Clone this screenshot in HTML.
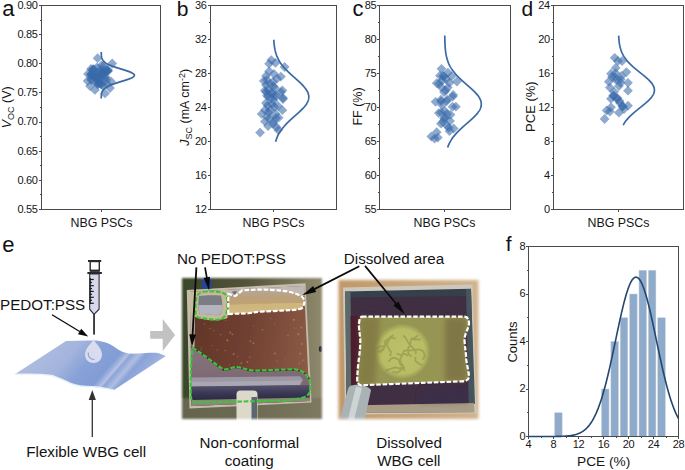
<!DOCTYPE html><html><head><meta charset="utf-8"><style>html,body{margin:0;padding:0;background:#fff;overflow:hidden}svg{display:block;font-family:"Liberation Sans",sans-serif}</style></head><body><svg width="685" height="470" viewBox="0 0 685 470" font-family="Liberation Sans, sans-serif">
<rect width="685" height="470" fill="#fff"/>
<text x="2.2" y="15.6" font-size="22" fill="#111">a</text>
<text x="176.8" y="15.6" font-size="21" fill="#111">b</text>
<text x="352.4" y="15.6" font-size="22" fill="#111">c</text>
<text x="521.6" y="15.6" font-size="21" fill="#111">d</text>
<text x="2.3" y="252" font-size="22" fill="#111">e</text>
<text x="505.8" y="250.9" font-size="21" fill="#111">f</text>
<rect x="41.5" y="5.5" width="119.0" height="204.0" fill="none" stroke="#4a4a4a" stroke-width="1"/>
<line x1="39.0" y1="5.5" x2="41.5" y2="5.5" stroke="#4a4a4a" stroke-width="1"/>
<text x="37.6" y="8.8" font-size="11" text-anchor="end" fill="#161616" letter-spacing="-0.35">0.90</text>
<line x1="40.0" y1="20.5" x2="41.5" y2="20.5" stroke="#4a4a4a" stroke-width="1"/>
<line x1="39.0" y1="34.5" x2="41.5" y2="34.5" stroke="#4a4a4a" stroke-width="1"/>
<text x="37.6" y="37.9" font-size="11" text-anchor="end" fill="#161616" letter-spacing="-0.35">0.85</text>
<line x1="40.0" y1="49.5" x2="41.5" y2="49.5" stroke="#4a4a4a" stroke-width="1"/>
<line x1="39.0" y1="63.5" x2="41.5" y2="63.5" stroke="#4a4a4a" stroke-width="1"/>
<text x="37.6" y="67.1" font-size="11" text-anchor="end" fill="#161616" letter-spacing="-0.35">0.80</text>
<line x1="40.0" y1="78.5" x2="41.5" y2="78.5" stroke="#4a4a4a" stroke-width="1"/>
<line x1="39.0" y1="92.5" x2="41.5" y2="92.5" stroke="#4a4a4a" stroke-width="1"/>
<text x="37.6" y="96.2" font-size="11" text-anchor="end" fill="#161616" letter-spacing="-0.35">0.75</text>
<line x1="40.0" y1="107.5" x2="41.5" y2="107.5" stroke="#4a4a4a" stroke-width="1"/>
<line x1="39.0" y1="122.5" x2="41.5" y2="122.5" stroke="#4a4a4a" stroke-width="1"/>
<text x="37.6" y="125.4" font-size="11" text-anchor="end" fill="#161616" letter-spacing="-0.35">0.70</text>
<line x1="40.0" y1="136.5" x2="41.5" y2="136.5" stroke="#4a4a4a" stroke-width="1"/>
<line x1="39.0" y1="151.5" x2="41.5" y2="151.5" stroke="#4a4a4a" stroke-width="1"/>
<text x="37.6" y="154.5" font-size="11" text-anchor="end" fill="#161616" letter-spacing="-0.35">0.65</text>
<line x1="40.0" y1="165.5" x2="41.5" y2="165.5" stroke="#4a4a4a" stroke-width="1"/>
<line x1="39.0" y1="180.5" x2="41.5" y2="180.5" stroke="#4a4a4a" stroke-width="1"/>
<text x="37.6" y="183.7" font-size="11" text-anchor="end" fill="#161616" letter-spacing="-0.35">0.60</text>
<line x1="40.0" y1="194.5" x2="41.5" y2="194.5" stroke="#4a4a4a" stroke-width="1"/>
<line x1="39.0" y1="209.5" x2="41.5" y2="209.5" stroke="#4a4a4a" stroke-width="1"/>
<text x="37.6" y="212.8" font-size="11" text-anchor="end" fill="#161616" letter-spacing="-0.35">0.55</text>
<line x1="101.5" y1="209.5" x2="101.5" y2="212.0" stroke="#4a4a4a" stroke-width="1"/>
<text x="101.5" y="226.6" font-size="12.4" text-anchor="middle" fill="#161616">NBG PSCs</text>
<rect x="210.5" y="5.5" width="126.0" height="204.0" fill="none" stroke="#4a4a4a" stroke-width="1"/>
<line x1="208.0" y1="5.5" x2="210.5" y2="5.5" stroke="#4a4a4a" stroke-width="1"/>
<text x="206.6" y="8.8" font-size="11" text-anchor="end" fill="#161616" letter-spacing="-0.35">36</text>
<line x1="209.0" y1="22.5" x2="210.5" y2="22.5" stroke="#4a4a4a" stroke-width="1"/>
<line x1="208.0" y1="39.5" x2="210.5" y2="39.5" stroke="#4a4a4a" stroke-width="1"/>
<text x="206.6" y="42.8" font-size="11" text-anchor="end" fill="#161616" letter-spacing="-0.35">32</text>
<line x1="209.0" y1="56.5" x2="210.5" y2="56.5" stroke="#4a4a4a" stroke-width="1"/>
<line x1="208.0" y1="73.5" x2="210.5" y2="73.5" stroke="#4a4a4a" stroke-width="1"/>
<text x="206.6" y="76.8" font-size="11" text-anchor="end" fill="#161616" letter-spacing="-0.35">28</text>
<line x1="209.0" y1="90.5" x2="210.5" y2="90.5" stroke="#4a4a4a" stroke-width="1"/>
<line x1="208.0" y1="107.5" x2="210.5" y2="107.5" stroke="#4a4a4a" stroke-width="1"/>
<text x="206.6" y="110.8" font-size="11" text-anchor="end" fill="#161616" letter-spacing="-0.35">24</text>
<line x1="209.0" y1="124.5" x2="210.5" y2="124.5" stroke="#4a4a4a" stroke-width="1"/>
<line x1="208.0" y1="141.5" x2="210.5" y2="141.5" stroke="#4a4a4a" stroke-width="1"/>
<text x="206.6" y="144.8" font-size="11" text-anchor="end" fill="#161616" letter-spacing="-0.35">20</text>
<line x1="209.0" y1="158.5" x2="210.5" y2="158.5" stroke="#4a4a4a" stroke-width="1"/>
<line x1="208.0" y1="175.5" x2="210.5" y2="175.5" stroke="#4a4a4a" stroke-width="1"/>
<text x="206.6" y="178.8" font-size="11" text-anchor="end" fill="#161616" letter-spacing="-0.35">16</text>
<line x1="209.0" y1="192.5" x2="210.5" y2="192.5" stroke="#4a4a4a" stroke-width="1"/>
<line x1="208.0" y1="209.5" x2="210.5" y2="209.5" stroke="#4a4a4a" stroke-width="1"/>
<text x="206.6" y="212.8" font-size="11" text-anchor="end" fill="#161616" letter-spacing="-0.35">12</text>
<line x1="273.5" y1="209.5" x2="273.5" y2="212.0" stroke="#4a4a4a" stroke-width="1"/>
<text x="273.5" y="226.6" font-size="12.4" text-anchor="middle" fill="#161616">NBG PSCs</text>
<rect x="379.5" y="5.5" width="131.0" height="204.0" fill="none" stroke="#4a4a4a" stroke-width="1"/>
<line x1="377.0" y1="5.5" x2="379.5" y2="5.5" stroke="#4a4a4a" stroke-width="1"/>
<text x="376.2" y="8.8" font-size="11" text-anchor="end" fill="#161616" letter-spacing="-0.35">85</text>
<line x1="378.0" y1="22.5" x2="379.5" y2="22.5" stroke="#4a4a4a" stroke-width="1"/>
<line x1="377.0" y1="39.5" x2="379.5" y2="39.5" stroke="#4a4a4a" stroke-width="1"/>
<text x="376.2" y="42.8" font-size="11" text-anchor="end" fill="#161616" letter-spacing="-0.35">80</text>
<line x1="378.0" y1="56.5" x2="379.5" y2="56.5" stroke="#4a4a4a" stroke-width="1"/>
<line x1="377.0" y1="73.5" x2="379.5" y2="73.5" stroke="#4a4a4a" stroke-width="1"/>
<text x="376.2" y="76.8" font-size="11" text-anchor="end" fill="#161616" letter-spacing="-0.35">75</text>
<line x1="378.0" y1="90.5" x2="379.5" y2="90.5" stroke="#4a4a4a" stroke-width="1"/>
<line x1="377.0" y1="107.5" x2="379.5" y2="107.5" stroke="#4a4a4a" stroke-width="1"/>
<text x="376.2" y="110.8" font-size="11" text-anchor="end" fill="#161616" letter-spacing="-0.35">70</text>
<line x1="378.0" y1="124.5" x2="379.5" y2="124.5" stroke="#4a4a4a" stroke-width="1"/>
<line x1="377.0" y1="141.5" x2="379.5" y2="141.5" stroke="#4a4a4a" stroke-width="1"/>
<text x="376.2" y="144.8" font-size="11" text-anchor="end" fill="#161616" letter-spacing="-0.35">65</text>
<line x1="378.0" y1="158.5" x2="379.5" y2="158.5" stroke="#4a4a4a" stroke-width="1"/>
<line x1="377.0" y1="175.5" x2="379.5" y2="175.5" stroke="#4a4a4a" stroke-width="1"/>
<text x="376.2" y="178.8" font-size="11" text-anchor="end" fill="#161616" letter-spacing="-0.35">60</text>
<line x1="378.0" y1="192.5" x2="379.5" y2="192.5" stroke="#4a4a4a" stroke-width="1"/>
<line x1="377.0" y1="209.5" x2="379.5" y2="209.5" stroke="#4a4a4a" stroke-width="1"/>
<text x="376.2" y="212.8" font-size="11" text-anchor="end" fill="#161616" letter-spacing="-0.35">55</text>
<line x1="444.5" y1="209.5" x2="444.5" y2="212.0" stroke="#4a4a4a" stroke-width="1"/>
<text x="444.5" y="226.6" font-size="12.4" text-anchor="middle" fill="#161616">NBG PSCs</text>
<rect x="553.5" y="5.5" width="130.0" height="204.0" fill="none" stroke="#4a4a4a" stroke-width="1"/>
<line x1="551.0" y1="5.5" x2="553.5" y2="5.5" stroke="#4a4a4a" stroke-width="1"/>
<text x="549.8" y="8.8" font-size="11" text-anchor="end" fill="#161616" letter-spacing="-0.35">24</text>
<line x1="552.0" y1="22.5" x2="553.5" y2="22.5" stroke="#4a4a4a" stroke-width="1"/>
<line x1="551.0" y1="39.5" x2="553.5" y2="39.5" stroke="#4a4a4a" stroke-width="1"/>
<text x="549.8" y="42.8" font-size="11" text-anchor="end" fill="#161616" letter-spacing="-0.35">20</text>
<line x1="552.0" y1="56.5" x2="553.5" y2="56.5" stroke="#4a4a4a" stroke-width="1"/>
<line x1="551.0" y1="73.5" x2="553.5" y2="73.5" stroke="#4a4a4a" stroke-width="1"/>
<text x="549.8" y="76.8" font-size="11" text-anchor="end" fill="#161616" letter-spacing="-0.35">16</text>
<line x1="552.0" y1="90.5" x2="553.5" y2="90.5" stroke="#4a4a4a" stroke-width="1"/>
<line x1="551.0" y1="107.5" x2="553.5" y2="107.5" stroke="#4a4a4a" stroke-width="1"/>
<text x="549.8" y="110.8" font-size="11" text-anchor="end" fill="#161616" letter-spacing="-0.35">12</text>
<line x1="552.0" y1="124.5" x2="553.5" y2="124.5" stroke="#4a4a4a" stroke-width="1"/>
<line x1="551.0" y1="141.5" x2="553.5" y2="141.5" stroke="#4a4a4a" stroke-width="1"/>
<text x="549.8" y="144.8" font-size="11" text-anchor="end" fill="#161616" letter-spacing="-0.35">8</text>
<line x1="552.0" y1="158.5" x2="553.5" y2="158.5" stroke="#4a4a4a" stroke-width="1"/>
<line x1="551.0" y1="175.5" x2="553.5" y2="175.5" stroke="#4a4a4a" stroke-width="1"/>
<text x="549.8" y="178.8" font-size="11" text-anchor="end" fill="#161616" letter-spacing="-0.35">4</text>
<line x1="552.0" y1="192.5" x2="553.5" y2="192.5" stroke="#4a4a4a" stroke-width="1"/>
<line x1="551.0" y1="209.5" x2="553.5" y2="209.5" stroke="#4a4a4a" stroke-width="1"/>
<text x="549.8" y="212.8" font-size="11" text-anchor="end" fill="#161616" letter-spacing="-0.35">0</text>
<line x1="618.5" y1="209.5" x2="618.5" y2="212.0" stroke="#4a4a4a" stroke-width="1"/>
<text x="618.5" y="226.6" font-size="12.4" text-anchor="middle" fill="#161616">NBG PSCs</text>
<text transform="translate(11.2,107.3) rotate(-90)" font-size="12.5" text-anchor="middle" fill="#161616"><tspan font-style="italic">V</tspan><tspan font-size="9" dy="2.5">OC</tspan><tspan dy="-2.5"> (V)</tspan></text>
<text transform="translate(189.2,107.3) rotate(-90)" font-size="12.5" text-anchor="middle" fill="#161616"><tspan font-style="italic">J</tspan><tspan font-size="9" dy="2.5">SC</tspan><tspan dy="-2.5"> (mA cm</tspan><tspan font-size="9" dy="-4.5">-2</tspan><tspan dy="4.5">)</tspan></text>
<text transform="translate(361.5,106.5) rotate(-90)" font-size="12.5" text-anchor="middle" fill="#161616">FF (%)</text>
<text transform="translate(535.3,106.6) rotate(-90)" font-size="13" text-anchor="middle" fill="#161616">PCE (%)</text>
<g fill="#386aa8" fill-opacity="0.57"><path d="M97.6,53.3 L102.5,58.2 L97.6,63.1 L92.7,58.2 Z"/><path d="M112.2,58.6 L117.1,63.5 L112.2,68.4 L107.3,63.5 Z"/><path d="M87.6,76.0 L92.5,80.9 L87.6,85.8 L82.7,80.9 Z"/><path d="M94.9,85.0 L99.8,89.9 L94.9,94.8 L90.0,89.9 Z"/><path d="M105.0,88.5 L109.9,93.4 L105.0,98.3 L100.1,93.4 Z"/><path d="M111.0,76.6 L115.9,81.5 L111.0,86.4 L106.1,81.5 Z"/><path d="M91.0,64.1 L95.9,69.0 L91.0,73.9 L86.1,69.0 Z"/><path d="M108.0,65.1 L112.9,70.0 L108.0,74.9 L103.1,70.0 Z"/><path d="M90.0,81.1 L94.9,86.0 L90.0,90.9 L85.1,86.0 Z"/><path d="M110.0,83.1 L114.9,88.0 L110.0,92.9 L105.1,88.0 Z"/><path d="M88.0,69.1 L92.9,74.0 L88.0,78.9 L83.1,74.0 Z"/><path d="M97.0,62.6 L101.9,67.5 L97.0,72.4 L92.1,67.5 Z"/><path d="M103.5,60.8 L108.4,65.7 L103.5,70.6 L98.6,65.7 Z"/><path d="M101.2,67.5 L106.1,72.4 L101.2,77.3 L96.3,72.4 Z"/><path d="M91.7,70.8 L96.6,75.7 L91.7,80.6 L86.8,75.7 Z"/><path d="M91.2,69.1 L96.1,74.0 L91.2,78.9 L86.3,74.0 Z"/><path d="M99.0,78.1 L103.9,83.0 L99.0,87.9 L94.1,83.0 Z"/><path d="M93.0,64.2 L97.9,69.1 L93.0,74.0 L88.1,69.1 Z"/><path d="M103.0,80.9 L107.9,85.8 L103.0,90.7 L98.1,85.8 Z"/><path d="M102.0,68.2 L106.9,73.1 L102.0,78.0 L97.1,73.1 Z"/><path d="M107.7,65.8 L112.6,70.7 L107.7,75.6 L102.8,70.7 Z"/><path d="M96.7,77.9 L101.6,82.8 L96.7,87.7 L91.8,82.8 Z"/><path d="M94.1,72.5 L99.0,77.4 L94.1,82.3 L89.2,77.4 Z"/><path d="M103.3,67.7 L108.2,72.6 L103.3,77.5 L98.4,72.6 Z"/><path d="M101.5,60.5 L106.4,65.4 L101.5,70.3 L96.6,65.4 Z"/><path d="M104.1,68.9 L109.0,73.8 L104.1,78.7 L99.2,73.8 Z"/><path d="M96.8,72.6 L101.7,77.5 L96.8,82.4 L91.9,77.5 Z"/><path d="M99.6,66.0 L104.5,70.9 L99.6,75.8 L94.7,70.9 Z"/><path d="M106.4,75.2 L111.3,80.1 L106.4,85.0 L101.5,80.1 Z"/><path d="M95.4,72.3 L100.3,77.2 L95.4,82.1 L90.5,77.2 Z"/><path d="M101.0,79.2 L105.9,84.1 L101.0,89.0 L96.1,84.1 Z"/><path d="M105.1,65.7 L110.0,70.6 L105.1,75.5 L100.2,70.6 Z"/><path d="M98.9,76.5 L103.8,81.4 L98.9,86.3 L94.0,81.4 Z"/><path d="M93.5,70.3 L98.4,75.2 L93.5,80.1 L88.6,75.2 Z"/><path d="M91.3,74.5 L96.2,79.4 L91.3,84.3 L86.4,79.4 Z"/><path d="M105.8,72.3 L110.7,77.2 L105.8,82.1 L100.9,77.2 Z"/><path d="M108.0,66.3 L112.9,71.2 L108.0,76.1 L103.1,71.2 Z"/><path d="M104.4,72.8 L109.3,77.7 L104.4,82.6 L99.5,77.7 Z"/><path d="M102.1,69.6 L107.0,74.5 L102.1,79.4 L97.2,74.5 Z"/><path d="M100.0,74.4 L104.9,79.3 L100.0,84.2 L95.1,79.3 Z"/><path d="M91.7,75.2 L96.6,80.1 L91.7,85.0 L86.8,80.1 Z"/><path d="M106.9,65.6 L111.8,70.5 L106.9,75.4 L102.0,70.5 Z"/><path d="M98.2,74.5 L103.1,79.4 L98.2,84.3 L93.3,79.4 Z"/><path d="M91.0,69.7 L95.9,74.6 L91.0,79.5 L86.1,74.6 Z"/><path d="M93.1,64.8 L98.0,69.7 L93.1,74.6 L88.2,69.7 Z"/><path d="M98.3,79.1 L103.2,84.0 L98.3,88.9 L93.4,84.0 Z"/><path d="M92.1,69.4 L97.0,74.3 L92.1,79.2 L87.2,74.3 Z"/><path d="M101.5,79.4 L106.4,84.3 L101.5,89.2 L96.6,84.3 Z"/><path d="M106.9,79.0 L111.8,83.9 L106.9,88.8 L102.0,83.9 Z"/><path d="M96.1,68.7 L101.0,73.6 L96.1,78.5 L91.2,73.6 Z"/><path d="M97.7,79.4 L102.6,84.3 L97.7,89.2 L92.8,84.3 Z"/><path d="M94.0,64.4 L98.9,69.3 L94.0,74.2 L89.1,69.3 Z"/><path d="M95.2,70.3 L100.1,75.2 L95.2,80.1 L90.3,75.2 Z"/><path d="M102.3,65.1 L107.2,70.0 L102.3,74.9 L97.4,70.0 Z"/><path d="M97.9,72.1 L102.8,77.0 L97.9,81.9 L93.0,77.0 Z"/></g>
<g fill="#386aa8" fill-opacity="0.57"><path d="M271.3,55.2 L276.2,60.1 L271.3,65.0 L266.4,60.1 Z"/><path d="M269.1,58.9 L274.0,63.8 L269.1,68.7 L264.2,63.8 Z"/><path d="M275.5,57.9 L280.4,62.8 L275.5,67.7 L270.6,62.8 Z"/><path d="M284.6,62.1 L289.5,67.0 L284.6,71.9 L279.7,67.0 Z"/><path d="M269.1,66.4 L274.0,71.3 L269.1,76.2 L264.2,71.3 Z"/><path d="M266.0,71.1 L270.9,76.0 L266.0,80.9 L261.1,76.0 Z"/><path d="M280.9,71.7 L285.8,76.6 L280.9,81.5 L276.0,76.6 Z"/><path d="M277.1,73.8 L282.0,78.7 L277.1,83.6 L272.2,78.7 Z"/><path d="M263.8,76.0 L268.7,80.9 L263.8,85.8 L258.9,80.9 Z"/><path d="M272.9,77.0 L277.8,81.9 L272.9,86.8 L268.0,81.9 Z"/><path d="M266.0,80.2 L270.9,85.1 L266.0,90.0 L261.1,85.1 Z"/><path d="M273.4,81.3 L278.3,86.2 L273.4,91.1 L268.5,86.2 Z"/><path d="M282.4,85.5 L287.3,90.4 L282.4,95.3 L277.5,90.4 Z"/><path d="M264.9,85.5 L269.8,90.4 L264.9,95.3 L260.0,90.4 Z"/><path d="M271.3,87.7 L276.2,92.6 L271.3,97.5 L266.4,92.6 Z"/><path d="M267.0,90.8 L271.9,95.7 L267.0,100.6 L262.1,95.7 Z"/><path d="M275.5,91.9 L280.4,96.8 L275.5,101.7 L270.6,96.8 Z"/><path d="M283.0,93.0 L287.9,97.9 L283.0,102.8 L278.1,97.9 Z"/><path d="M266.0,87.2 L270.9,92.1 L266.0,97.0 L261.1,92.1 Z"/><path d="M272.3,88.8 L277.2,93.7 L272.3,98.6 L267.4,93.7 Z"/><path d="M280.9,87.2 L285.8,92.1 L280.9,97.0 L276.0,92.1 Z"/><path d="M283.0,94.1 L287.9,99.0 L283.0,103.9 L278.1,99.0 Z"/><path d="M268.1,91.5 L273.0,96.4 L268.1,101.3 L263.2,96.4 Z"/><path d="M273.4,95.7 L278.3,100.6 L273.4,105.5 L268.5,100.6 Z"/><path d="M267.6,100.5 L272.5,105.4 L267.6,110.3 L262.7,105.4 Z"/><path d="M274.5,102.1 L279.4,107.0 L274.5,111.9 L269.6,107.0 Z"/><path d="M282.4,105.3 L287.3,110.2 L282.4,115.1 L277.5,110.2 Z"/><path d="M261.7,109.0 L266.6,113.9 L261.7,118.8 L256.8,113.9 Z"/><path d="M268.6,107.4 L273.5,112.3 L268.6,117.2 L263.7,112.3 Z"/><path d="M275.5,109.0 L280.4,113.9 L275.5,118.8 L270.6,113.9 Z"/><path d="M278.7,112.8 L283.6,117.7 L278.7,122.6 L273.8,117.7 Z"/><path d="M267.0,112.2 L271.9,117.1 L267.0,122.0 L262.1,117.1 Z"/><path d="M264.9,116.5 L269.8,121.4 L264.9,126.3 L260.0,121.4 Z"/><path d="M273.4,117.0 L278.3,121.9 L273.4,126.8 L268.5,121.9 Z"/><path d="M276.6,122.3 L281.5,127.2 L276.6,132.1 L271.7,127.2 Z"/><path d="M278.2,125.0 L283.1,129.9 L278.2,134.8 L273.3,129.9 Z"/><path d="M260.1,127.7 L265.0,132.6 L260.1,137.5 L255.2,132.6 Z"/><path d="M270.0,79.1 L274.9,84.0 L270.0,88.9 L265.1,84.0 Z"/><path d="M275.0,83.1 L279.9,88.0 L275.0,92.9 L270.1,88.0 Z"/><path d="M268.0,85.1 L272.9,90.0 L268.0,94.9 L263.1,90.0 Z"/><path d="M276.0,90.1 L280.9,95.0 L276.0,99.9 L271.1,95.0 Z"/><path d="M271.0,93.1 L275.9,98.0 L271.0,102.9 L266.1,98.0 Z"/><path d="M266.0,98.1 L270.9,103.0 L266.0,107.9 L261.1,103.0 Z"/><path d="M272.0,99.1 L276.9,104.0 L272.0,108.9 L267.1,104.0 Z"/><path d="M278.0,101.1 L282.9,106.0 L278.0,110.9 L273.1,106.0 Z"/><path d="M270.0,105.1 L274.9,110.0 L270.0,114.9 L265.1,110.0 Z"/><path d="M265.0,105.1 L269.9,110.0 L265.0,114.9 L260.1,110.0 Z"/><path d="M276.0,113.1 L280.9,118.0 L276.0,122.9 L271.1,118.0 Z"/><path d="M270.0,113.1 L274.9,118.0 L270.0,122.9 L265.1,118.0 Z"/><path d="M273.0,119.1 L277.9,124.0 L273.0,128.9 L268.1,124.0 Z"/><path d="M268.0,121.1 L272.9,126.0 L268.0,130.9 L263.1,126.0 Z"/><path d="M274.0,69.1 L278.9,74.0 L274.0,78.9 L269.1,74.0 Z"/><path d="M267.0,75.1 L271.9,80.0 L267.0,84.9 L262.1,80.0 Z"/></g>
<g fill="#386aa8" fill-opacity="0.57"><path d="M441.5,63.9 L446.4,68.8 L441.5,73.7 L436.6,68.8 Z"/><path d="M447.9,67.7 L452.8,72.6 L447.9,77.5 L443.0,72.6 Z"/><path d="M439.9,70.8 L444.8,75.7 L439.9,80.6 L435.0,75.7 Z"/><path d="M444.1,71.4 L449.0,76.3 L444.1,81.2 L439.2,76.3 Z"/><path d="M451.6,71.4 L456.5,76.3 L451.6,81.2 L446.7,76.3 Z"/><path d="M436.7,78.3 L441.6,83.2 L436.7,88.1 L431.8,83.2 Z"/><path d="M442.0,75.6 L446.9,80.5 L442.0,85.4 L437.1,80.5 Z"/><path d="M449.5,77.8 L454.4,82.7 L449.5,87.6 L444.6,82.7 Z"/><path d="M456.9,76.7 L461.8,81.6 L456.9,86.5 L452.0,81.6 Z"/><path d="M441.0,82.0 L445.9,86.9 L441.0,91.8 L436.1,86.9 Z"/><path d="M445.7,85.7 L450.6,90.6 L445.7,95.5 L440.8,90.6 Z"/><path d="M453.2,90.0 L458.1,94.9 L453.2,99.8 L448.3,94.9 Z"/><path d="M435.6,96.9 L440.5,101.8 L435.6,106.7 L430.7,101.8 Z"/><path d="M441.0,94.8 L445.9,99.7 L441.0,104.6 L436.1,99.7 Z"/><path d="M447.3,94.8 L452.2,99.7 L447.3,104.6 L442.4,99.7 Z"/><path d="M441.0,96.5 L445.9,101.4 L441.0,106.3 L436.1,101.4 Z"/><path d="M452.7,91.7 L457.6,96.6 L452.7,101.5 L447.8,96.6 Z"/><path d="M455.9,101.8 L460.8,106.7 L455.9,111.6 L451.0,106.7 Z"/><path d="M438.8,108.2 L443.7,113.1 L438.8,118.0 L433.9,113.1 Z"/><path d="M444.7,106.1 L449.6,111.0 L444.7,115.9 L439.8,111.0 Z"/><path d="M450.5,109.8 L455.4,114.7 L450.5,119.6 L445.6,114.7 Z"/><path d="M444.1,113.5 L449.0,118.4 L444.1,123.3 L439.2,118.4 Z"/><path d="M441.0,118.8 L445.9,123.7 L441.0,128.6 L436.1,123.7 Z"/><path d="M447.3,121.0 L452.2,125.9 L447.3,130.8 L442.4,125.9 Z"/><path d="M453.7,123.6 L458.6,128.5 L453.7,133.4 L448.8,128.5 Z"/><path d="M449.5,126.3 L454.4,131.2 L449.5,136.1 L444.6,131.2 Z"/><path d="M436.7,127.3 L441.6,132.2 L436.7,137.1 L431.8,132.2 Z"/><path d="M431.4,131.6 L436.3,136.5 L431.4,141.4 L426.5,136.5 Z"/><path d="M437.8,132.7 L442.7,137.6 L437.8,142.5 L432.9,137.6 Z"/><path d="M434.6,133.7 L439.5,138.6 L434.6,143.5 L429.7,138.6 Z"/><path d="M443.0,71.1 L447.9,76.0 L443.0,80.9 L438.1,76.0 Z"/><path d="M446.0,74.1 L450.9,79.0 L446.0,83.9 L441.1,79.0 Z"/><path d="M439.2,78.8 L444.1,83.7 L439.2,88.6 L434.3,83.7 Z"/><path d="M447.8,82.7 L452.7,87.6 L447.8,92.5 L442.9,87.6 Z"/><path d="M444.0,87.1 L448.9,92.0 L444.0,96.9 L439.1,92.0 Z"/><path d="M446.8,96.1 L451.7,101.0 L446.8,105.9 L441.9,101.0 Z"/><path d="M442.0,100.1 L446.9,105.0 L442.0,109.9 L437.1,105.0 Z"/><path d="M452.6,101.8 L457.5,106.7 L452.6,111.6 L447.7,106.7 Z"/><path d="M441.1,107.6 L446.0,112.5 L441.1,117.4 L436.2,112.5 Z"/><path d="M447.0,109.1 L451.9,114.0 L447.0,118.9 L442.1,114.0 Z"/><path d="M444.9,113.3 L449.8,118.2 L444.9,123.1 L440.0,118.2 Z"/><path d="M448.7,122.9 L453.6,127.8 L448.7,132.7 L443.8,127.8 Z"/><path d="M443.0,117.1 L447.9,122.0 L443.0,126.9 L438.1,122.0 Z"/><path d="M450.0,116.1 L454.9,121.0 L450.0,125.9 L445.1,121.0 Z"/></g>
<g fill="#386aa8" fill-opacity="0.57"><path d="M614.7,52.9 L619.6,57.8 L614.7,62.7 L609.8,57.8 Z"/><path d="M617.9,56.1 L622.8,61.0 L617.9,65.9 L613.0,61.0 Z"/><path d="M622.1,56.1 L627.0,61.0 L622.1,65.9 L617.2,61.0 Z"/><path d="M615.7,63.0 L620.6,67.9 L615.7,72.8 L610.8,67.9 Z"/><path d="M611.0,68.8 L615.9,73.7 L611.0,78.6 L606.1,73.7 Z"/><path d="M615.7,68.3 L620.6,73.2 L615.7,78.1 L610.8,73.2 Z"/><path d="M626.4,67.2 L631.3,72.1 L626.4,77.0 L621.5,72.1 Z"/><path d="M621.6,71.0 L626.5,75.9 L621.6,80.8 L616.7,75.9 Z"/><path d="M612.0,72.0 L616.9,76.9 L612.0,81.8 L607.1,76.9 Z"/><path d="M616.3,75.2 L621.2,80.1 L616.3,85.0 L611.4,80.1 Z"/><path d="M608.8,76.8 L613.7,81.7 L608.8,86.6 L603.9,81.7 Z"/><path d="M620.5,77.9 L625.4,82.8 L620.5,87.7 L615.6,82.8 Z"/><path d="M628.0,77.9 L632.9,82.8 L628.0,87.7 L623.1,82.8 Z"/><path d="M609.9,82.7 L614.8,87.6 L609.9,92.5 L605.0,87.6 Z"/><path d="M628.0,85.8 L632.9,90.7 L628.0,95.6 L623.1,90.7 Z"/><path d="M614.1,86.9 L619.0,91.8 L614.1,96.7 L609.2,91.8 Z"/><path d="M618.9,81.2 L623.8,86.1 L618.9,91.0 L614.0,86.1 Z"/><path d="M613.1,90.7 L618.0,95.6 L613.1,100.5 L608.2,95.6 Z"/><path d="M617.3,92.9 L622.2,97.8 L617.3,102.7 L612.4,97.8 Z"/><path d="M611.0,93.9 L615.9,98.8 L611.0,103.7 L606.1,98.8 Z"/><path d="M619.5,96.1 L624.4,101.0 L619.5,105.9 L614.6,101.0 Z"/><path d="M622.7,101.4 L627.6,106.3 L622.7,111.2 L617.8,106.3 Z"/><path d="M628.0,100.8 L632.9,105.7 L628.0,110.6 L623.1,105.7 Z"/><path d="M611.0,102.4 L615.9,107.3 L611.0,112.2 L606.1,107.3 Z"/><path d="M606.7,105.6 L611.6,110.5 L606.7,115.4 L601.8,110.5 Z"/><path d="M609.9,106.7 L614.8,111.6 L609.9,116.5 L605.0,111.6 Z"/><path d="M618.9,107.8 L623.8,112.7 L618.9,117.6 L614.0,112.7 Z"/><path d="M604.6,114.1 L609.5,119.0 L604.6,123.9 L599.7,119.0 Z"/><path d="M617.0,94.1 L621.9,99.0 L617.0,103.9 L612.1,99.0 Z"/><path d="M622.5,101.6 L627.4,106.5 L622.5,111.4 L617.6,106.5 Z"/><path d="M615.3,72.6 L620.2,77.5 L615.3,82.4 L610.4,77.5 Z"/><path d="M620.7,74.5 L625.6,79.4 L620.7,84.3 L615.8,79.4 Z"/><path d="M614.0,91.1 L618.9,96.0 L614.0,100.9 L609.1,96.0 Z"/><path d="M620.0,98.1 L624.9,103.0 L620.0,107.9 L615.1,103.0 Z"/><path d="M624.0,104.1 L628.9,109.0 L624.0,113.9 L619.1,109.0 Z"/></g>
<path d="M101.23,51.90 L101.24,52.40 L101.25,52.90 L101.26,53.40 L101.29,53.90 L101.31,54.40 L101.35,54.90 L101.39,55.40 L101.45,55.90 L101.52,56.40 L101.61,56.90 L101.71,57.40 L101.85,57.90 L102.01,58.40 L102.20,58.90 L102.44,59.40 L102.72,59.90 L103.05,60.40 L103.44,60.90 L103.89,61.40 L104.41,61.90 L105.01,62.40 L105.69,62.90 L106.46,63.40 L107.32,63.90 L108.28,64.40 L109.33,64.90 L110.48,65.40 L111.72,65.90 L113.05,66.40 L114.46,66.90 L115.94,67.40 L117.49,67.90 L119.07,68.40 L120.69,68.90 L122.31,69.40 L123.92,69.90 L125.49,70.40 L127.01,70.90 L128.44,71.40 L129.77,71.90 L130.96,72.40 L132.00,72.90 L132.88,73.40 L133.56,73.90 L134.05,74.40 L134.33,74.90 L134.40,75.40 L134.24,75.90 L133.88,76.40 L133.31,76.90 L132.55,77.40 L131.61,77.90 L130.50,78.40 L129.25,78.90 L127.88,79.40 L126.41,79.90 L124.87,80.40 L123.28,80.90 L121.66,81.40 L120.04,81.90 L118.43,82.40 L116.86,82.90 L115.34,83.40 L113.89,83.90 L112.51,84.40 L111.21,84.90 L110.01,85.40 L108.90,85.90 L107.89,86.40 L106.97,86.90 L106.14,87.40 L105.41,87.90 L104.76,88.40 L104.19,88.90 L103.70,89.40 L103.27,89.90 L102.91,90.40 L102.60,90.90 L102.34,91.40 L102.12,91.90 L101.94,92.40 L101.79,92.90 L101.67,93.40 L101.57,93.90 L101.49,94.40 L101.42,94.90 L101.37,95.40 L101.33,95.90 L101.30,96.40 L101.28,96.90 L101.26,97.40 L101.24,97.90 L101.23,98.40" fill="none" stroke="#3b69a5" stroke-width="1.7"/>
<path d="M273.78,39.70 L273.81,40.20 L273.84,40.70 L273.87,41.20 L273.91,41.70 L273.95,42.20 L274.00,42.70 L274.04,43.20 L274.09,43.70 L274.14,44.20 L274.20,44.70 L274.26,45.20 L274.32,45.70 L274.39,46.20 L274.46,46.70 L274.54,47.20 L274.62,47.70 L274.71,48.20 L274.80,48.70 L274.89,49.20 L275.00,49.70 L275.10,50.20 L275.22,50.70 L275.34,51.20 L275.46,51.70 L275.60,52.20 L275.74,52.70 L275.88,53.20 L276.04,53.70 L276.20,54.20 L276.37,54.70 L276.55,55.20 L276.73,55.70 L276.93,56.20 L277.13,56.70 L277.35,57.20 L277.57,57.70 L277.80,58.20 L278.04,58.70 L278.29,59.20 L278.55,59.70 L278.83,60.20 L279.11,60.70 L279.40,61.20 L279.70,61.70 L280.02,62.20 L280.34,62.70 L280.67,63.20 L281.02,63.70 L281.38,64.20 L281.75,64.70 L282.12,65.20 L282.51,65.70 L282.91,66.20 L283.33,66.70 L283.75,67.20 L284.18,67.70 L284.62,68.20 L285.07,68.70 L285.54,69.20 L286.01,69.70 L286.49,70.20 L286.98,70.70 L287.48,71.20 L287.99,71.70 L288.50,72.20 L289.02,72.70 L289.55,73.20 L290.09,73.70 L290.63,74.20 L291.18,74.70 L291.73,75.20 L292.28,75.70 L292.84,76.20 L293.40,76.70 L293.97,77.20 L294.53,77.70 L295.10,78.20 L295.66,78.70 L296.23,79.20 L296.79,79.70 L297.35,80.20 L297.90,80.70 L298.45,81.20 L299.00,81.70 L299.54,82.20 L300.07,82.70 L300.59,83.20 L301.11,83.70 L301.61,84.20 L302.11,84.70 L302.59,85.20 L303.06,85.70 L303.52,86.20 L303.96,86.70 L304.39,87.20 L304.80,87.70 L305.20,88.20 L305.58,88.70 L305.94,89.20 L306.28,89.70 L306.60,90.20 L306.91,90.70 L307.19,91.20 L307.45,91.70 L307.69,92.20 L307.90,92.70 L308.10,93.20 L308.27,93.70 L308.42,94.20 L308.54,94.70 L308.64,95.20 L308.72,95.70 L308.77,96.20 L308.80,96.70 L308.80,97.20 L308.78,97.70 L308.73,98.20 L308.66,98.70 L308.56,99.20 L308.44,99.70 L308.30,100.20 L308.14,100.70 L307.95,101.20 L307.73,101.70 L307.50,102.20 L307.24,102.70 L306.96,103.20 L306.67,103.70 L306.35,104.20 L306.01,104.70 L305.65,105.20 L305.28,105.70 L304.88,106.20 L304.47,106.70 L304.05,107.20 L303.61,107.70 L303.15,108.20 L302.69,108.70 L302.21,109.20 L301.71,109.70 L301.21,110.20 L300.70,110.70 L300.17,111.20 L299.64,111.70 L299.11,112.20 L298.56,112.70 L298.01,113.20 L297.46,113.70 L296.90,114.20 L296.34,114.70 L295.77,115.20 L295.21,115.70 L294.65,116.20 L294.08,116.70 L293.52,117.20 L292.96,117.70 L292.40,118.20 L291.84,118.70 L291.29,119.20 L290.74,119.70 L290.20,120.20 L289.66,120.70 L289.13,121.20 L288.61,121.70 L288.09,122.20 L287.58,122.70 L287.08,123.20 L286.59,123.70 L286.11,124.20 L285.63,124.70 L285.17,125.20 L284.71,125.70 L284.27,126.20 L283.83,126.70 L283.41,127.20 L283.00,127.70 L282.59,128.20 L282.20,128.70 L281.82,129.20 L281.45,129.70 L281.09,130.20 L280.74,130.70 L280.41,131.20 L280.08,131.70 L279.76,132.20 L279.46,132.70 L279.16,133.20 L278.88,133.70 L278.61,134.20 L278.34,134.70 L278.09,135.20 L277.85,135.70 L277.61,136.20 L277.39,136.70 L277.18,137.20 L276.97,137.70 L276.77,138.20 L276.58,138.70 L276.40,139.20 L276.23,139.70 L276.07,140.20 L275.91,140.70 L275.77,141.20 L275.62,141.70" fill="none" stroke="#3b69a5" stroke-width="1.7"/>
<path d="M444.77,35.60 L444.77,36.10 L444.78,36.60 L444.79,37.10 L444.80,37.60 L444.81,38.10 L444.82,38.60 L444.83,39.10 L444.84,39.60 L444.85,40.10 L444.86,40.60 L444.88,41.10 L444.89,41.60 L444.91,42.10 L444.93,42.60 L444.95,43.10 L444.97,43.60 L444.99,44.10 L445.02,44.60 L445.04,45.10 L445.07,45.60 L445.10,46.10 L445.13,46.60 L445.17,47.10 L445.20,47.60 L445.24,48.10 L445.29,48.60 L445.33,49.10 L445.38,49.60 L445.43,50.10 L445.49,50.60 L445.54,51.10 L445.61,51.60 L445.67,52.10 L445.74,52.60 L445.81,53.10 L445.89,53.60 L445.98,54.10 L446.06,54.60 L446.16,55.10 L446.26,55.60 L446.36,56.10 L446.47,56.60 L446.59,57.10 L446.71,57.60 L446.84,58.10 L446.97,58.60 L447.12,59.10 L447.26,59.60 L447.42,60.10 L447.59,60.60 L447.76,61.10 L447.94,61.60 L448.13,62.10 L448.33,62.60 L448.53,63.10 L448.75,63.60 L448.97,64.10 L449.21,64.60 L449.45,65.10 L449.70,65.60 L449.97,66.10 L450.24,66.60 L450.53,67.10 L450.82,67.60 L451.13,68.10 L451.44,68.60 L451.77,69.10 L452.11,69.60 L452.45,70.10 L452.81,70.60 L453.18,71.10 L453.57,71.60 L453.96,72.10 L454.36,72.60 L454.78,73.10 L455.20,73.60 L455.63,74.10 L456.08,74.60 L456.54,75.10 L457.00,75.60 L457.48,76.10 L457.96,76.60 L458.46,77.10 L458.96,77.60 L459.47,78.10 L459.99,78.60 L460.52,79.10 L461.05,79.60 L461.59,80.10 L462.14,80.60 L462.69,81.10 L463.25,81.60 L463.81,82.10 L464.38,82.60 L464.95,83.10 L465.52,83.60 L466.09,84.10 L466.67,84.60 L467.24,85.10 L467.82,85.60 L468.39,86.10 L468.96,86.60 L469.53,87.10 L470.10,87.60 L470.66,88.10 L471.21,88.60 L471.76,89.10 L472.30,89.60 L472.83,90.10 L473.36,90.60 L473.87,91.10 L474.38,91.60 L474.87,92.10 L475.35,92.60 L475.81,93.10 L476.27,93.60 L476.70,94.10 L477.12,94.60 L477.53,95.10 L477.92,95.60 L478.29,96.10 L478.64,96.60 L478.97,97.10 L479.28,97.60 L479.57,98.10 L479.84,98.60 L480.09,99.10 L480.32,99.60 L480.52,100.10 L480.70,100.60 L480.86,101.10 L480.99,101.60 L481.10,102.10 L481.19,102.60 L481.25,103.10 L481.29,103.60 L481.30,104.10 L481.29,104.60 L481.25,105.10 L481.19,105.60 L481.10,106.10 L480.99,106.60 L480.86,107.10 L480.70,107.60 L480.52,108.10 L480.32,108.60 L480.09,109.10 L479.84,109.60 L479.57,110.10 L479.28,110.60 L478.97,111.10 L478.64,111.60 L478.29,112.10 L477.92,112.60 L477.53,113.10 L477.12,113.60 L476.70,114.10 L476.27,114.60 L475.81,115.10 L475.35,115.60 L474.87,116.10 L474.38,116.60 L473.87,117.10 L473.36,117.60 L472.83,118.10 L472.30,118.60 L471.76,119.10 L471.21,119.60 L470.66,120.10 L470.10,120.60 L469.53,121.10 L468.96,121.60 L468.39,122.10 L467.82,122.60 L467.24,123.10 L466.67,123.60 L466.09,124.10 L465.52,124.60 L464.95,125.10 L464.38,125.60 L463.81,126.10 L463.25,126.60 L462.69,127.10 L462.14,127.60 L461.59,128.10 L461.05,128.60 L460.52,129.10 L459.99,129.60 L459.47,130.10 L458.96,130.60 L458.46,131.10 L457.96,131.60 L457.48,132.10 L457.00,132.60 L456.54,133.10 L456.08,133.60 L455.63,134.10 L455.20,134.60 L454.78,135.10 L454.36,135.60 L453.96,136.10 L453.57,136.60 L453.18,137.10 L452.81,137.60 L452.45,138.10 L452.11,138.60 L451.77,139.10 L451.44,139.60 L451.13,140.10 L450.82,140.60 L450.53,141.10 L450.24,141.60 L449.97,142.10 L449.70,142.60 L449.45,143.10 L449.21,143.60 L448.97,144.10 L448.75,144.60 L448.53,145.10 L448.33,145.60 L448.13,146.10 L447.94,146.60 L447.76,147.10 L447.59,147.60" fill="none" stroke="#3b69a5" stroke-width="1.7"/>
<path d="M618.67,35.60 L618.69,36.10 L618.72,36.60 L618.75,37.10 L618.78,37.60 L618.81,38.10 L618.85,38.60 L618.89,39.10 L618.93,39.60 L618.98,40.10 L619.03,40.60 L619.08,41.10 L619.14,41.60 L619.20,42.10 L619.27,42.60 L619.34,43.10 L619.41,43.60 L619.49,44.10 L619.58,44.60 L619.67,45.10 L619.77,45.60 L619.87,46.10 L619.98,46.60 L620.10,47.10 L620.22,47.60 L620.35,48.10 L620.49,48.60 L620.64,49.10 L620.80,49.60 L620.96,50.10 L621.14,50.60 L621.32,51.10 L621.51,51.60 L621.72,52.10 L621.93,52.60 L622.15,53.10 L622.39,53.60 L622.63,54.10 L622.89,54.60 L623.16,55.10 L623.44,55.60 L623.74,56.10 L624.04,56.60 L624.36,57.10 L624.69,57.60 L625.04,58.10 L625.39,58.60 L625.76,59.10 L626.15,59.60 L626.54,60.10 L626.95,60.60 L627.38,61.10 L627.81,61.60 L628.26,62.10 L628.73,62.60 L629.20,63.10 L629.69,63.60 L630.19,64.10 L630.70,64.60 L631.22,65.10 L631.76,65.60 L632.31,66.10 L632.86,66.60 L633.43,67.10 L634.00,67.60 L634.59,68.10 L635.18,68.60 L635.78,69.10 L636.38,69.60 L637.00,70.10 L637.61,70.60 L638.23,71.10 L638.86,71.60 L639.48,72.10 L640.11,72.60 L640.74,73.10 L641.36,73.60 L641.99,74.10 L642.61,74.60 L643.23,75.10 L643.84,75.60 L644.45,76.10 L645.04,76.60 L645.63,77.10 L646.21,77.60 L646.78,78.10 L647.34,78.60 L647.88,79.10 L648.41,79.60 L648.92,80.10 L649.42,80.60 L649.89,81.10 L650.35,81.60 L650.79,82.10 L651.21,82.60 L651.60,83.10 L651.97,83.60 L652.32,84.10 L652.65,84.60 L652.94,85.10 L653.22,85.60 L653.46,86.10 L653.68,86.60 L653.87,87.10 L654.03,87.60 L654.16,88.10 L654.27,88.60 L654.34,89.10 L654.39,89.60 L654.40,90.10 L654.39,90.60 L654.34,91.10 L654.27,91.60 L654.16,92.10 L654.03,92.60 L653.87,93.10 L653.68,93.60 L653.46,94.10 L653.22,94.60 L652.94,95.10 L652.65,95.60 L652.32,96.10 L651.97,96.60 L651.60,97.10 L651.21,97.60 L650.79,98.10 L650.35,98.60 L649.89,99.10 L649.42,99.60 L648.92,100.10 L648.41,100.60 L647.88,101.10 L647.34,101.60 L646.78,102.10 L646.21,102.60 L645.63,103.10 L645.04,103.60 L644.45,104.10 L643.84,104.60 L643.23,105.10 L642.61,105.60 L641.99,106.10 L641.36,106.60 L640.74,107.10 L640.11,107.60 L639.48,108.10 L638.86,108.60 L638.23,109.10 L637.61,109.60 L637.00,110.10 L636.38,110.60 L635.78,111.10 L635.18,111.60 L634.59,112.10 L634.00,112.60 L633.43,113.10 L632.86,113.60 L632.31,114.10 L631.76,114.60 L631.22,115.10 L630.70,115.60 L630.19,116.10 L629.69,116.60 L629.20,117.10 L628.73,117.60 L628.26,118.10 L627.81,118.60 L627.38,119.10 L626.95,119.60 L626.54,120.10 L626.15,120.60 L625.76,121.10 L625.39,121.60 L625.04,122.10 L624.69,122.60 L624.36,123.10 L624.04,123.60 L623.74,124.10 L623.44,124.60 L623.16,125.10" fill="none" stroke="#3b69a5" stroke-width="1.7"/>
<rect x="554.65" y="412.75" width="7.5" height="23.75" fill="#8eabcb" stroke="#c8ccd2" stroke-width="0.5"/>
<rect x="601.52" y="389.00" width="7.5" height="47.50" fill="#8eabcb" stroke="#c8ccd2" stroke-width="0.5"/>
<rect x="610.90" y="341.50" width="7.5" height="95.00" fill="#8eabcb" stroke="#c8ccd2" stroke-width="0.5"/>
<rect x="620.27" y="317.75" width="7.5" height="118.75" fill="#8eabcb" stroke="#c8ccd2" stroke-width="0.5"/>
<rect x="629.65" y="294.00" width="7.5" height="142.50" fill="#8eabcb" stroke="#c8ccd2" stroke-width="0.5"/>
<rect x="639.02" y="270.25" width="7.5" height="166.25" fill="#8eabcb" stroke="#c8ccd2" stroke-width="0.5"/>
<rect x="648.40" y="270.25" width="7.5" height="166.25" fill="#8eabcb" stroke="#c8ccd2" stroke-width="0.5"/>
<rect x="657.77" y="317.75" width="7.5" height="118.75" fill="#8eabcb" stroke="#c8ccd2" stroke-width="0.5"/>
<rect x="528.5" y="246.5" width="150.0" height="190.0" fill="none" stroke="#4a4a4a" stroke-width="1"/>
<line x1="526.0" y1="246.5" x2="528.5" y2="246.5" stroke="#4a4a4a"/>
<text x="525.7" y="249.8" font-size="11" text-anchor="end" fill="#161616">8</text>
<line x1="527.0" y1="270.5" x2="528.5" y2="270.5" stroke="#4a4a4a"/>
<line x1="526.0" y1="294.5" x2="528.5" y2="294.5" stroke="#4a4a4a"/>
<text x="525.7" y="297.3" font-size="11" text-anchor="end" fill="#161616">6</text>
<line x1="527.0" y1="317.5" x2="528.5" y2="317.5" stroke="#4a4a4a"/>
<line x1="526.0" y1="341.5" x2="528.5" y2="341.5" stroke="#4a4a4a"/>
<text x="525.7" y="344.8" font-size="11" text-anchor="end" fill="#161616">4</text>
<line x1="527.0" y1="365.5" x2="528.5" y2="365.5" stroke="#4a4a4a"/>
<line x1="526.0" y1="389.5" x2="528.5" y2="389.5" stroke="#4a4a4a"/>
<text x="525.7" y="392.3" font-size="11" text-anchor="end" fill="#161616">2</text>
<line x1="527.0" y1="412.5" x2="528.5" y2="412.5" stroke="#4a4a4a"/>
<line x1="526.0" y1="436.5" x2="528.5" y2="436.5" stroke="#4a4a4a"/>
<text x="525.7" y="439.8" font-size="11" text-anchor="end" fill="#161616">0</text>
<line x1="528.5" y1="436.5" x2="528.5" y2="439.0" stroke="#4a4a4a"/>
<text x="528.5" y="448.3" font-size="11" text-anchor="middle" fill="#161616" letter-spacing="-0.3">4</text>
<line x1="541.5" y1="436.5" x2="541.5" y2="438.0" stroke="#4a4a4a"/>
<line x1="553.5" y1="436.5" x2="553.5" y2="439.0" stroke="#4a4a4a"/>
<text x="553.5" y="448.3" font-size="11" text-anchor="middle" fill="#161616" letter-spacing="-0.3">8</text>
<line x1="566.5" y1="436.5" x2="566.5" y2="438.0" stroke="#4a4a4a"/>
<line x1="578.5" y1="436.5" x2="578.5" y2="439.0" stroke="#4a4a4a"/>
<text x="578.5" y="448.3" font-size="11" text-anchor="middle" fill="#161616" letter-spacing="-0.3">12</text>
<line x1="591.5" y1="436.5" x2="591.5" y2="438.0" stroke="#4a4a4a"/>
<line x1="603.5" y1="436.5" x2="603.5" y2="439.0" stroke="#4a4a4a"/>
<text x="603.5" y="448.3" font-size="11" text-anchor="middle" fill="#161616" letter-spacing="-0.3">16</text>
<line x1="616.5" y1="436.5" x2="616.5" y2="438.0" stroke="#4a4a4a"/>
<line x1="628.5" y1="436.5" x2="628.5" y2="439.0" stroke="#4a4a4a"/>
<text x="628.5" y="448.3" font-size="11" text-anchor="middle" fill="#161616" letter-spacing="-0.3">20</text>
<line x1="641.5" y1="436.5" x2="641.5" y2="438.0" stroke="#4a4a4a"/>
<line x1="653.5" y1="436.5" x2="653.5" y2="439.0" stroke="#4a4a4a"/>
<text x="653.5" y="448.3" font-size="11" text-anchor="middle" fill="#161616" letter-spacing="-0.3">24</text>
<line x1="666.5" y1="436.5" x2="666.5" y2="438.0" stroke="#4a4a4a"/>
<line x1="678.5" y1="436.5" x2="678.5" y2="439.0" stroke="#4a4a4a"/>
<text x="678.5" y="448.3" font-size="11" text-anchor="middle" fill="#161616" letter-spacing="-0.3">28</text>
<path d="M528.50,436.50 L529.12,436.50 L529.75,436.50 L530.38,436.50 L531.00,436.50 L531.62,436.50 L532.25,436.50 L532.88,436.50 L533.50,436.50 L534.12,436.50 L534.75,436.50 L535.38,436.50 L536.00,436.50 L536.62,436.50 L537.25,436.50 L537.88,436.50 L538.50,436.50 L539.12,436.50 L539.75,436.50 L540.38,436.50 L541.00,436.50 L541.62,436.50 L542.25,436.50 L542.88,436.50 L543.50,436.49 L544.12,436.49 L544.75,436.49 L545.37,436.49 L546.00,436.49 L546.62,436.49 L547.25,436.49 L547.87,436.49 L548.50,436.49 L549.12,436.48 L549.75,436.48 L550.37,436.48 L551.00,436.47 L551.62,436.47 L552.25,436.47 L552.87,436.46 L553.50,436.46 L554.12,436.45 L554.75,436.45 L555.37,436.44 L556.00,436.43 L556.62,436.42 L557.25,436.41 L557.87,436.40 L558.50,436.39 L559.12,436.38 L559.75,436.36 L560.37,436.34 L561.00,436.33 L561.62,436.30 L562.25,436.28 L562.87,436.26 L563.50,436.23 L564.12,436.20 L564.75,436.16 L565.37,436.12 L566.00,436.08 L566.62,436.03 L567.25,435.98 L567.87,435.92 L568.50,435.86 L569.12,435.79 L569.75,435.72 L570.37,435.64 L571.00,435.55 L571.62,435.45 L572.25,435.34 L572.87,435.23 L573.50,435.10 L574.12,434.96 L574.75,434.81 L575.37,434.65 L576.00,434.47 L576.62,434.28 L577.25,434.07 L577.87,433.84 L578.50,433.60 L579.12,433.34 L579.75,433.06 L580.37,432.75 L581.00,432.42 L581.62,432.07 L582.25,431.69 L582.87,431.29 L583.50,430.85 L584.12,430.39 L584.75,429.89 L585.37,429.36 L586.00,428.80 L586.62,428.19 L587.25,427.55 L587.87,426.87 L588.50,426.15 L589.12,425.38 L589.75,424.57 L590.37,423.71 L591.00,422.80 L591.62,421.84 L592.25,420.83 L592.87,419.77 L593.50,418.64 L594.12,417.47 L594.75,416.23 L595.37,414.93 L596.00,413.57 L596.62,412.15 L597.25,410.67 L597.87,409.12 L598.50,407.51 L599.12,405.83 L599.75,404.08 L600.37,402.27 L601.00,400.39 L601.62,398.44 L602.25,396.42 L602.87,394.34 L603.50,392.19 L604.12,389.98 L604.75,387.70 L605.37,385.36 L606.00,382.95 L606.62,380.49 L607.25,377.97 L607.87,375.39 L608.50,372.77 L609.12,370.09 L609.75,367.36 L610.37,364.59 L611.00,361.78 L611.62,358.93 L612.25,356.05 L612.87,353.14 L613.50,350.21 L614.12,347.26 L614.75,344.30 L615.37,341.33 L616.00,338.35 L616.62,335.38 L617.25,332.42 L617.88,329.47 L618.50,326.55 L619.12,323.65 L619.75,320.78 L620.38,317.95 L621.00,315.17 L621.62,312.44 L622.25,309.77 L622.88,307.16 L623.50,304.63 L624.12,302.17 L624.75,299.80 L625.38,297.51 L626.00,295.33 L626.62,293.24 L627.25,291.26 L627.88,289.39 L628.50,287.64 L629.13,286.01 L629.75,284.51 L630.38,283.13 L631.00,281.89 L631.63,280.79 L632.25,279.83 L632.88,279.01 L633.50,278.34 L634.13,277.81 L634.75,277.44 L635.38,277.21 L636.00,277.14 L636.63,277.21 L637.25,277.44 L637.88,277.81 L638.50,278.34 L639.13,279.01 L639.75,279.83 L640.38,280.79 L641.00,281.89 L641.63,283.13 L642.25,284.51 L642.88,286.01 L643.50,287.64 L644.13,289.39 L644.75,291.26 L645.38,293.24 L646.00,295.33 L646.63,297.51 L647.25,299.80 L647.88,302.17 L648.50,304.63 L649.13,307.16 L649.75,309.77 L650.38,312.44 L651.00,315.17 L651.63,317.95 L652.25,320.78 L652.88,323.65 L653.50,326.55 L654.13,329.47 L654.75,332.42 L655.38,335.38 L656.00,338.35 L656.63,341.33 L657.25,344.30 L657.88,347.26 L658.50,350.21 L659.13,353.14 L659.75,356.05 L660.38,358.93 L661.00,361.78 L661.63,364.59 L662.25,367.36 L662.88,370.09 L663.50,372.77 L664.13,375.39 L664.75,377.97 L665.38,380.49 L666.00,382.95 L666.63,385.36 L667.25,387.70 L667.88,389.98 L668.50,392.19 L669.13,394.34 L669.75,396.42 L670.38,398.44 L671.00,400.39 L671.63,402.27 L672.25,404.08 L672.88,405.83 L673.50,407.51 L674.13,409.12 L674.75,410.67 L675.38,412.15 L676.00,413.57 L676.63,414.93 L677.25,416.23 L677.88,417.47 L678.50,418.64" fill="none" stroke="#24466f" stroke-width="1.6"/>
<text transform="translate(516.5,342) rotate(-90)" font-size="13" text-anchor="middle" fill="#161616">Counts</text>
<text x="603.7" y="465.6" font-size="13.7" text-anchor="middle" fill="#161616">PCE (%)</text>
<defs>
<filter id="bl1" x="-20%" y="-20%" width="140%" height="140%"><feGaussianBlur stdDeviation="1.2"/></filter>
<filter id="bl05" x="-20%" y="-20%" width="140%" height="140%"><feGaussianBlur stdDeviation="0.6"/></filter>
<filter id="bl2" x="-20%" y="-20%" width="140%" height="140%"><feGaussianBlur stdDeviation="2.5"/></filter>
<filter id="bl15" x="-20%" y="-20%" width="140%" height="140%"><feGaussianBlur stdDeviation="1.6"/></filter>
<mask id="m1" maskUnits="userSpaceOnUse" x="170" y="265" width="165" height="165"><rect x="182" y="278" width="140" height="141" fill="#fff" filter="url(#bl1)"/></mask>
<mask id="m2" maskUnits="userSpaceOnUse" x="325" y="265" width="165" height="165"><rect x="338.5" y="280" width="140" height="139" fill="#fff" filter="url(#bl15)"/></mask>
<linearGradient id="sheetg" gradientUnits="userSpaceOnUse" x1="193" y1="166.5" x2="271" y2="233.8"><stop offset="0.000" stop-color="#b0bde0"/><stop offset="0.291" stop-color="#a3b4dd"/><stop offset="0.466" stop-color="#88a2d7"/><stop offset="0.650" stop-color="#819dd5"/><stop offset="0.689" stop-color="#9fb1dd"/><stop offset="0.714" stop-color="#b6c2e2"/><stop offset="0.738" stop-color="#8ca4d8"/><stop offset="0.757" stop-color="#98addb"/><stop offset="0.796" stop-color="#b0bee1"/><stop offset="0.845" stop-color="#8aa3d7"/><stop offset="0.922" stop-color="#94aada"/><stop offset="1.000" stop-color="#a6b6de"/></linearGradient>
<linearGradient id="og1" x1="0" y1="0" x2="1" y2="0"><stop offset="0" stop-color="#384628"/><stop offset="0.45" stop-color="#54523a"/><stop offset="1" stop-color="#948e72"/></linearGradient>
<linearGradient id="og2" x1="0" y1="0" x2="1" y2="0"><stop offset="0" stop-color="#c09666"/><stop offset="1" stop-color="#d2b690"/></linearGradient>
<radialGradient id="circg" cx="0.5" cy="0.5" r="0.5"><stop offset="0" stop-color="#bcc068"/><stop offset="0.8" stop-color="#b8bc64"/><stop offset="1" stop-color="#b8bc64" stop-opacity="0"/></radialGradient>
<linearGradient id="browng" gradientUnits="userSpaceOnUse" x1="190" y1="330" x2="310" y2="350"><stop offset="0" stop-color="#613629"/><stop offset="0.45" stop-color="#703f31"/><stop offset="1" stop-color="#8c5b45"/></linearGradient>
<linearGradient id="navyg" x1="0" y1="0" x2="0" y2="1"><stop offset="0" stop-color="#57546e"/><stop offset="0.5" stop-color="#3a3854"/><stop offset="1" stop-color="#29273f"/></linearGradient>
<linearGradient id="mauveg" x1="0" y1="0" x2="0" y2="1"><stop offset="0" stop-color="#87747e"/><stop offset="0.7" stop-color="#7a6770"/><stop offset="1" stop-color="#6a5a64"/></linearGradient>
<linearGradient id="tang" gradientUnits="userSpaceOnUse" x1="0" y1="289" x2="0" y2="314"><stop offset="0" stop-color="#b4a898"/><stop offset="0.35" stop-color="#bca07a"/><stop offset="0.7" stop-color="#c0a470"/><stop offset="1" stop-color="#cdb27a"/></linearGradient>
</defs>
<path d="M14.8,374.3 L66,341.1 C76,340.6 86,340.2 96,340.6 C106,341.5 112,345 118,349.5 C124,353.5 130,354 138,353.6 C146,353 152,352.2 158,353 L165.9,356 L114,390.1 C108,388.8 100,386.8 92,386.7 C84,386.6 78,386.5 72,384 C64,380.5 58,377 50,375.3 C40,373.6 26,374 14.8,374.3 Z" fill="url(#sheetg)"/>
<path d="M14.8,374.3 C26,374 40,373.6 50,375.3 C58,377 64,380.5 72,384 C78,386.5 84,386.6 92,386.7 C100,386.8 108,388.8 114,390.1" fill="none" stroke="#e6f2f8" stroke-width="1.4"/>
<path d="M93.5,339 C95,343 102,348 102,354.5 C102,359.5 98,363 93.5,363 C89,363 85,359.5 85,354.5 C85,348 92,343 93.5,339 Z" fill="#d9dcee"/>
<path d="M88.3,352.5 C87.5,356 90,359.5 94.5,359.5" fill="none" stroke="#8c9fd2" stroke-width="1.1"/>
<rect x="88" y="260" width="13.2" height="2" fill="#2a2a2a"/>
<rect x="90.2" y="261.5" width="9.1" height="9.2" fill="#fff" stroke="#2a2a2a" stroke-width="1.4"/>
<rect x="90" y="269.6" width="9.6" height="2.2" fill="#2a2a2a"/>
<rect x="87.1" y="272" width="15" height="2.1" rx="1" fill="#2a2a2a"/>
<path d="M89.7,274 L99.1,274 L99.1,309.2 L94,314.4 L89.7,309.2 Z" fill="#d6d8ee" stroke="#2e2e2e" stroke-width="1.1"/>
<line x1="89.6" y1="279.5" x2="93.8" y2="279.5" stroke="#1e1e1e" stroke-width="1.2"/>
<line x1="89.6" y1="282.5" x2="92.0" y2="282.5" stroke="#1e1e1e" stroke-width="1.2"/>
<line x1="89.6" y1="285.7" x2="93.8" y2="285.7" stroke="#1e1e1e" stroke-width="1.2"/>
<line x1="89.6" y1="288.6" x2="92.0" y2="288.6" stroke="#1e1e1e" stroke-width="1.2"/>
<line x1="89.6" y1="291.4" x2="93.8" y2="291.4" stroke="#1e1e1e" stroke-width="1.2"/>
<line x1="89.6" y1="294.3" x2="92.0" y2="294.3" stroke="#1e1e1e" stroke-width="1.2"/>
<line x1="89.6" y1="297.3" x2="93.8" y2="297.3" stroke="#1e1e1e" stroke-width="1.2"/>
<line x1="89.6" y1="300.3" x2="92.0" y2="300.3" stroke="#1e1e1e" stroke-width="1.2"/>
<line x1="89.6" y1="303.3" x2="93.8" y2="303.3" stroke="#1e1e1e" stroke-width="1.2"/>
<line x1="90.3" y1="278" x2="90.3" y2="304" stroke="#1e1e1e" stroke-width="1"/>
<rect x="93.1" y="314" width="1.9" height="20.6" fill="#3c3c3c"/>
<path d="M150.2,331.1 L162.7,331.1 L162.7,319 L175.1,335 L162.7,350.9 L162.7,338.8 L150.2,338.8 Z" fill="#c2c2c2"/>
<g mask="url(#m1)">
<rect x="178" y="274" width="150" height="150" fill="url(#og1)"/>
<rect x="178" y="398" width="150" height="30" fill="#77735c" opacity="0.7" filter="url(#bl1)"/>
<ellipse cx="320.5" cy="349" rx="1.6" ry="3" fill="#2a2a30" filter="url(#bl05)"/>
<g filter="url(#bl05)">
<path d="M186.8,290 L305.5,283.2 L311.5,402.5 L189.5,408.5 Z" fill="#c4bcac"/>
<path d="M190,291.8 L304,286 L309.5,401 L191.5,406 Z" fill="url(#browng)"/>
<g fill="#b8946c" opacity="0.55"><circle cx="274.8" cy="353.6" r="1.0"/><circle cx="300.4" cy="353.5" r="1.1"/><circle cx="227.3" cy="340.3" r="1.1"/><circle cx="276.9" cy="361.2" r="0.6"/><circle cx="262.5" cy="329.8" r="0.8"/><circle cx="270.9" cy="318.6" r="0.6"/><circle cx="247.4" cy="362.0" r="1.0"/><circle cx="237.8" cy="356.3" r="0.6"/><circle cx="274.4" cy="324.1" r="0.5"/><circle cx="294.7" cy="328.1" r="0.6"/><circle cx="303.6" cy="359.9" r="0.7"/><circle cx="301.9" cy="343.9" r="0.9"/><circle cx="241.4" cy="363.2" r="0.9"/><circle cx="302.3" cy="360.9" r="0.7"/><circle cx="253.9" cy="326.0" r="0.6"/><circle cx="230.2" cy="332.5" r="0.9"/><circle cx="225.3" cy="350.5" r="0.7"/><circle cx="249.8" cy="357.3" r="0.8"/><circle cx="250.3" cy="341.1" r="0.9"/><circle cx="229.6" cy="364.8" r="0.5"/><circle cx="285.0" cy="358.6" r="0.5"/><circle cx="288.0" cy="335.6" r="0.8"/><circle cx="225.7" cy="320.2" r="0.6"/><circle cx="301.4" cy="327.4" r="1.0"/><circle cx="299.4" cy="363.2" r="0.7"/><circle cx="253.4" cy="343.2" r="1.0"/><circle cx="233.6" cy="353.9" r="1.0"/><circle cx="293.8" cy="319.8" r="1.1"/><circle cx="232.3" cy="334.4" r="0.9"/><circle cx="298.4" cy="334.3" r="1.1"/><circle cx="213.6" cy="330.7" r="0.6"/><circle cx="204.4" cy="324.2" r="0.6"/><circle cx="217.2" cy="349.9" r="0.6"/><circle cx="201.2" cy="349.6" r="0.7"/><circle cx="210.1" cy="328.6" r="0.7"/><circle cx="220.7" cy="334.8" r="0.7"/><circle cx="201.4" cy="347.6" r="0.5"/><circle cx="212.3" cy="345.5" r="0.6"/></g>
<path d="M226,289.8 L304,286 L304.5,296 L226,296 Z" fill="#c0b8b2"/>
<path d="M228.3,314 L228.3,294 L235.3,296 L242.2,290.4 C255,289.4 268,289.4 278.3,290.4 C286,291 294,292 301.8,296.6 C305,299 305.5,304 301.8,308.4 C296,310 292,310 289.3,310.2 C280,310.8 270,311.2 261.6,311.6 C255,312 250,313 247.7,313.3 Z" fill="url(#tang)"/>
<path d="M229,305 C250,304 280,303 303,303 L302,308.4 C290,310 270,311 250,312.5 L229,313 Z" fill="#d4bd84" opacity="0.7"/>
<path d="M232,291.5 L237,291 L235,296 Z" fill="#6c6e78"/>
<path d="M190,291.8 L227,289.8 L227.5,318 C220,321 205,321 195,317 L190,313 Z" fill="#c6ba98"/>
<path d="M199,296 C205,295 215,295 221,295.5 C222.5,300 222.5,306 222,312 C221,315.5 218,315.5 214,315 C210,313.5 204,315.5 200,315 C198,312 198,300 199,296 Z" fill="#7c7c86"/>
<path d="M198.6,305 L222.3,305 C222.3,309 222,312 221.5,313 C219,315.5 216,315.5 214,315 C210,313.5 204,315.5 200,315 C198.8,312 198.6,308 198.6,305 Z" fill="#b4b4be"/>
<path d="M190,312 L195,316 L194.5,347 L190.5,347 Z" fill="#bcb4a0"/>
<path d="M191,346 C200,352 210,360 223,369.4 C228,370 232,367 236.2,367 C242,367 248,370.7 255.2,370.7 C270,370 285,369.4 295,369.4 C303,370 309,376 309.5,380 L309.5,401 L191.5,406 Z" fill="url(#mauveg)"/>
<path d="M191,377.5 L300,376.2 L303,380 L300,385 L191.2,386.5 Z" fill="#9c97a4"/><path d="M191,382 L301,380.5 L300,385 L191.2,386.5 Z" fill="#aaa6b2"/>
<path d="M191.2,386.5 L309.5,385 L309.5,398 L191.4,401 Z" fill="url(#navyg)"/>
<path d="M191.4,400 L309.5,397.5 L309.7,401 L191.5,406 Z" fill="#8c8676"/>
</g>
<rect x="202" y="277.8" width="9.4" height="10.8" fill="#25449a" filter="url(#bl05)"/>
<g filter="url(#bl05)"><rect x="236.5" y="390.5" width="21" height="36" rx="4" fill="#dcd9cb"/><rect x="251.5" y="397" width="5.5" height="30" fill="#5c6670"/></g>
</g>
<path d="M191,346.5 C200,352 210,360 223,369.9 C228,370.5 232,367.5 236.2,367.5 C242,367.5 248,371.2 255.2,371.2 C270,370.5 285,369.9 295,369.9 C303,370.5 309,376 309.5,380" fill="none" stroke="#3a2622" stroke-width="1.6" opacity="0.8"/>
<path d="M203,291.8 C213,291 222,291.5 225.5,294.5 C228,298 227.5,304 227,310 C226.5,316 222.5,319.8 216,319.8 C210,319.8 204,318 199,317.5 C195,317 195.3,311 195.6,305 C195.9,299 196,293.5 203,291.8 Z" fill="none" stroke="#3cc43c" stroke-width="2.1" stroke-dasharray="4.7 1.7"/>
<path d="M228.3,314 L228.3,294 L235.3,296 L242.2,290.4 C255,289.4 268,289.4 278.3,290.4 C286,291 294,292 301.8,296.6 C305,299 305.5,304 301.8,308.4 C296,310 292,310 289.3,310.2 C280,310.8 270,311.2 261.6,311.6 C255,312 250,313 247.7,313.3 Z" fill="none" stroke="#fff" stroke-width="2.2" stroke-dasharray="4.6 1.8"/>
<path d="M192.6,347.6 C200,352 210,360 223,369.4 C228,370 232,367 236.2,367 C242,367 248,370.7 255.2,370.7 C270,370 285,369.4 295,369.4 C303,370 309,376 310.2,383.6 C311,390 310,394 306.4,396 C300,399.5 290,400.5 280,400.7 C250,401.2 220,402 196.4,402.6 C191,402 190.7,398 190.7,392 C190.7,380 190.7,360 192.6,347.6 Z" fill="none" stroke="#3cc43c" stroke-width="2.1" stroke-dasharray="4.7 1.7"/>
<g mask="url(#m2)">
<rect x="330" y="270" width="160" height="160" fill="url(#og2)"/>
<g filter="url(#bl05)">
<path d="M343,287.5 L472.5,284.5 L476.5,413.5 L345,414.5 Z" fill="#cdc8be"/>
<path d="M345.5,292.5 L471,289.8 L474,412 L346.5,413 Z" fill="#412d43"/>
<path d="M345,291.5 L471,288.8 L471,296 L345,297.5 Z" fill="#34414b"/>
<path d="M345,291.5 L350.5,291.5 L352,405 L346.5,405 Z" fill="#5c6a6a"/>
<path d="M466,289 L471,289 L475,404 L468.7,404 Z" fill="#46545c"/>
<path d="M350.5,316 L360,316 L360,385 L351,385 Z" fill="#4e1e2e"/>
<path d="M362,316.7 L464.5,316.7 C468,317 469,320 469,324 C468,330 464.5,334 464.5,340 C465,348 466.2,354 466.2,359 C467,366 469,372 468.9,377 C468.5,380 466,381 463,381.3 L361,385.3 C358,385 357,382 357.2,378 C357.5,372 358,365 359,358 C360,350 360.3,345 360.3,340 C360,334 358.5,328 359,323 C359.5,319 360,317 362,316.7 Z" fill="#979553"/>
<circle cx="402.5" cy="351.5" r="28" fill="url(#circg)"/>
<path d="M404.7,366.9 L399.5,368.3 L395.2,367.3 L391.2,368.7 L385.9,370.3 M408.0,356.0 L405.1,353.8 L400.9,355.2 L396.6,353.4 M408.4,349.9 L403.8,351.0 L401.9,355.5 L400.2,359.5 L400.9,363.3 L403.6,365.7 M418.0,335.2 L415.2,337.6 L410.8,339.7 L410.1,345.5 L408.0,348.4 L408.4,353.8 L411.6,356.9 M410.9,338.1 L414.8,339.6 L420.7,339.4 M415.4,356.7 L415.4,361.0 L419.5,364.0 L422.5,365.2 M384.9,346.7 L380.1,346.1 L376.7,348.9 M390.1,356.2 L391.0,351.9 L389.1,349.2 L387.0,344.9 L383.9,340.9 M403.2,367.1 L400.2,370.7 L397.4,372.7 L392.4,371.9 M393.4,335.0 L390.1,337.5 L387.6,342.8 L384.0,346.1 L383.7,349.2 L379.8,352.9 M407.5,350.9 L413.3,350.1 L418.5,349.3 L423.3,351.1 L424.9,355.8 L422.7,359.7 M415.7,354.2 L415.8,350.9 L413.3,348.3 L410.0,345.1 L407.6,341.4 L405.4,337.4 L402.9,335.5 M388.4,361.7 L390.6,359.0 L393.9,357.6 L398.5,359.3 L400.0,364.0 L403.5,367.0 L404.4,371.1 M395.8,338.3 L390.3,337.6 L385.5,340.9 L384.9,346.6 L381.9,349.7 L377.2,352.0" fill="none" stroke="#7a7c40" stroke-width="1.8" opacity="0.4" stroke-linejoin="round" filter="url(#bl05)"/>
<path d="M445,318 L464.5,317 C468,320 468,330 465,338 L466,360 L468.5,378 L463,381 L445,382 Z" fill="#6e5e3c" opacity="0.55" filter="url(#bl2)"/>
<path d="M361,316.7 L380,316.7 L375,385 L361,385.3 C358,385 357,382 357.2,378 L360.3,340 L359,323 Z" fill="#6e6036" opacity="0.45" filter="url(#bl2)"/>
<path d="M346.5,405.5 L474,403 L474.5,412.5 L346.5,413 Z" fill="#ab9c86"/><path d="M420,390 L466,388 L468.5,403 L420,404 Z" fill="#2e3656" opacity="0.3" filter="url(#bl2)"/>
</g>
<g filter="url(#bl05)"><path d="M354,385 C360,384 368,386 371,390 L364,422 L340,418 L348,389 C349,386 351,385.5 354,385 Z" fill="#a9b3b6"/><path d="M356,386.5 L362,388 L354,420 L348,419 Z" fill="#ccd4d4"/></g>
</g>
<path d="M362,316.7 L464.5,316.7 C468,317 469,320 469,324 C468,330 464.5,334 464.5,340 C465,348 466.2,354 466.2,359 C467,366 469,372 468.9,377 C468.5,380 466,381 463,381.3 L361,385.3 C358,385 357,382 357.2,378 C357.5,372 358,365 359,358 C360,350 360.3,345 360.3,340 C360,334 358.5,328 359,323 C359.5,319 360,317 362,316.7 Z" fill="none" stroke="#fff" stroke-width="2.2" stroke-dasharray="4.6 1.8"/>
<line x1="196.40" y1="267.40" x2="192.49" y2="336.32" stroke="#0a0a0a" stroke-width="1.8"/>
<path d="M191.90,346.80 L189.31,334.13 L195.90,334.51 Z" fill="#0a0a0a"/>
<line x1="205.00" y1="267.40" x2="207.15" y2="279.37" stroke="#0a0a0a" stroke-width="1.7"/>
<path d="M209.10,290.20 L203.65,277.97 L209.95,276.84 Z" fill="#0a0a0a"/>
<line x1="359.30" y1="266.30" x2="312.90" y2="289.87" stroke="#0a0a0a" stroke-width="1.7"/>
<path d="M302.20,295.30 L313.19,286.02 L316.18,291.90 Z" fill="#0a0a0a"/>
<line x1="365.00" y1="265.90" x2="397.18" y2="305.03" stroke="#0a0a0a" stroke-width="1.7"/>
<path d="M404.80,314.30 L393.36,305.58 L398.46,301.39 Z" fill="#0a0a0a"/>
<line x1="52.00" y1="314.80" x2="81.35" y2="332.47" stroke="#0a0a0a" stroke-width="1.3"/>
<path d="M88.20,336.60 L77.98,334.18 L81.28,328.70 Z" fill="#0a0a0a"/>
<line x1="92.30" y1="437.00" x2="92.30" y2="398.00" stroke="#333" stroke-width="1.3"/>
<path d="M92.30,390.00 L95.90,400.00 L88.70,400.00 Z" fill="#333"/>
<text x="0" y="309.6" fill="#141414" font-size="15.2">PEDOT:PSS</text>
<text x="86.2" y="457.3" fill="#141414" font-size="15.2" text-anchor="middle">Flexible WBG cell</text>
<text x="177" y="263.7" fill="#141414" font-size="15.2">No PEDOT:PSS</text>
<text x="343.8" y="263.6" fill="#141414" font-size="15.2">Dissolved area</text>
<text x="249.4" y="448.3" fill="#141414" font-size="15.2" text-anchor="middle">Non-conformal</text>
<text x="249.2" y="466" fill="#141414" font-size="15.2" text-anchor="middle">coating</text>
<text x="409.1" y="448.2" fill="#141414" font-size="15.2" text-anchor="middle">Dissolved</text>
<text x="408.8" y="466.1" fill="#141414" font-size="15.2" text-anchor="middle">WBG cell</text>
</svg></body></html>
